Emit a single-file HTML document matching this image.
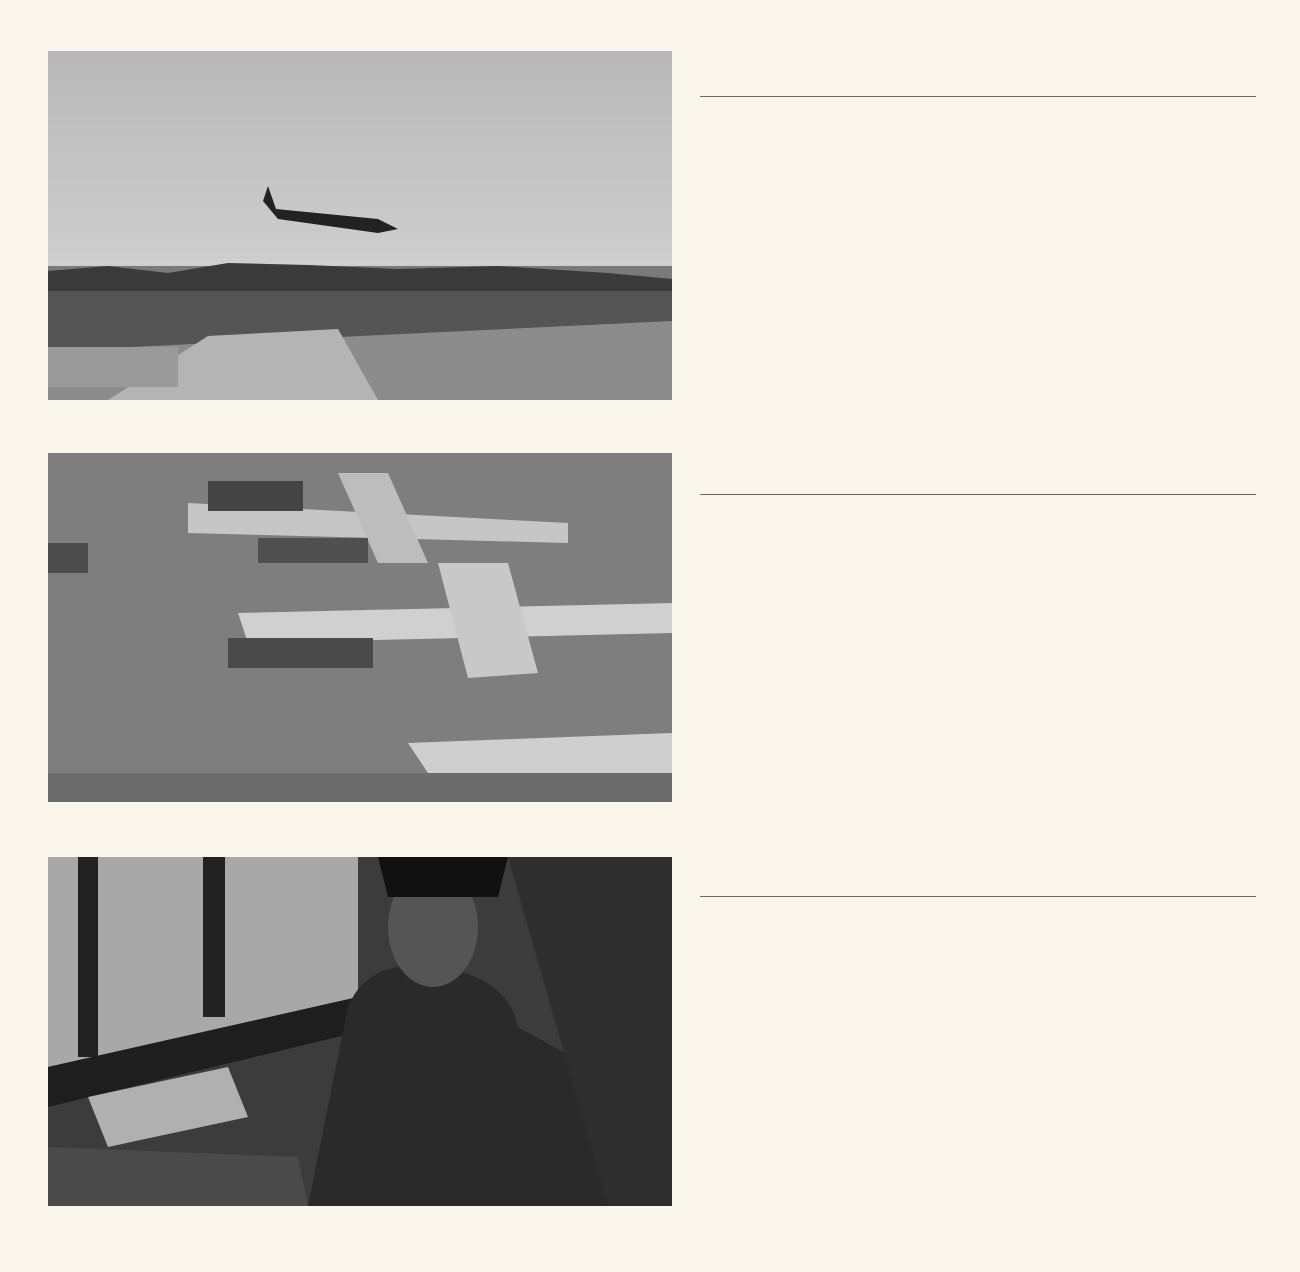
<!DOCTYPE html>
<html><head><meta charset="utf-8"><style>
html,body{margin:0;padding:0;background:#faf6ec;width:1300px;height:1272px;overflow:hidden;font-family:"Liberation Sans",sans-serif}
.photo{position:absolute;left:48px;width:624px;height:349px;overflow:hidden}
.rule{position:absolute;left:700px;width:556px;height:1px;background:#6a6660}
</style></head><body>
<div class="photo" style="top:51px">
<svg width="624" height="349" viewBox="0 0 624 349">
<defs><linearGradient id="sky" x1="0" y1="0" x2="0" y2="1"><stop offset="0" stop-color="#b8b8b8"/><stop offset="1" stop-color="#dcdcdc"/></linearGradient></defs>
<rect width="624" height="349" fill="url(#sky)"/>
<rect y="215" width="624" height="134" fill="#7a7a7a"/>
<path d="M0 220 L60 215 L120 222 L180 212 L260 214 L350 218 L450 215 L560 222 L624 228 L624 300 L0 300Z" fill="#3a3a3a"/>
<rect y="240" width="624" height="60" fill="#555"/>
<path d="M0 300 L624 270 L624 349 L0 349Z" fill="#8c8c8c"/>
<path d="M60 349 L160 285 L290 278 L330 349Z" fill="#b4b4b4"/>
<rect y="296" width="130" height="40" fill="#9a9a9a"/>
<path d="M215 150 L220 135 L228 158 L330 168 L350 178 L330 182 L230 168Z" fill="#222"/>
</svg></div>
<div class="rule" style="top:96px"></div>

<div class="photo" style="top:453px">
<svg width="624" height="349" viewBox="0 0 624 349">
<rect width="624" height="349" fill="#7e7e7e"/>
<path d="M140 50 L520 70 L520 90 L140 80Z" fill="#c6c6c6"/>
<path d="M190 160 L624 150 L624 180 L200 190Z" fill="#d0d0d0"/>
<path d="M290 20 L340 20 L380 110 L330 110Z" fill="#bdbdbd"/>
<path d="M390 110 L460 110 L490 220 L420 225Z" fill="#c8c8c8"/>
<path d="M360 290 L624 280 L624 320 L380 320Z" fill="#cfcfcf"/>
<rect x="180" y="185" width="145" height="30" fill="#4a4a4a"/>
<rect x="160" y="28" width="95" height="30" fill="#444"/>
<rect x="210" y="85" width="110" height="25" fill="#505050"/>
<rect x="0" y="90" width="40" height="30" fill="#4c4c4c"/>
<rect x="0" y="320" width="624" height="29" fill="#6c6c6c"/>
</svg></div>
<div class="rule" style="top:494px"></div>

<div class="photo" style="top:857px">
<svg width="624" height="349" viewBox="0 0 624 349">
<rect width="624" height="349" fill="#3c3c3c"/>
<path d="M0 0 L310 0 L310 140 L0 210Z" fill="#a8a8a8"/>
<rect x="30" y="0" width="20" height="200" fill="#222"/>
<rect x="155" y="0" width="22" height="160" fill="#222"/>
<path d="M0 210 L310 140 L310 175 L0 250Z" fill="#1e1e1e"/>
<path d="M40 240 L180 210 L200 260 L60 290Z" fill="#b0b0b0"/>
<path d="M300 150 Q320 100 390 110 Q460 120 470 170 L560 220 L600 349 L260 349 Z" fill="#2a2a2a"/>
<ellipse cx="385" cy="70" rx="45" ry="60" fill="#555"/>
<path d="M330 0 L460 0 L450 40 L340 40Z" fill="#111"/>
<ellipse cx="565" cy="60" rx="60" ry="65" fill="#1a1a1a"/>
<path d="M460 0 L624 0 L624 349 L560 349 Z" fill="#2e2e2e"/>
<path d="M0 290 L250 300 L260 349 L0 349Z" fill="#4a4a4a"/>
</svg></div>
<div class="rule" style="top:896px"></div>
</body></html>
